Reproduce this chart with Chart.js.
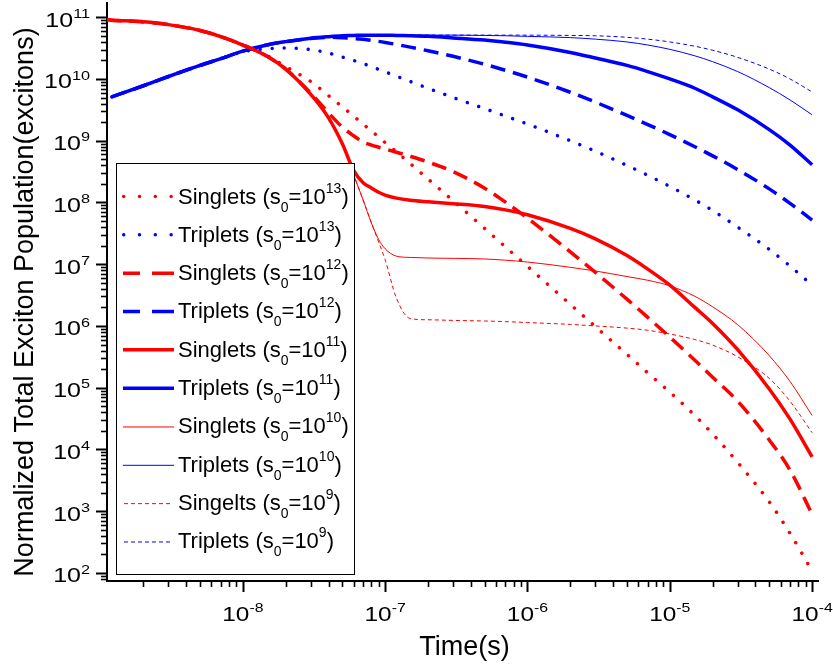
<!DOCTYPE html>
<html><head><meta charset="utf-8">
<script src="https://cdn.jsdelivr.net/npm/chart.js@4.4.1/dist/chart.umd.min.js"></script>
<style>html,body{margin:0;padding:0;background:#fff}#wrap{width:833px;height:669px;position:relative}</style>
</head><body><div id="wrap"><canvas id="c"></canvas></div>
<script>
// ---- DATA ----
const timeSeconds = [1.1e-9, 1.2e-9, 2e-9, 3e-9, 5e-9, 7e-9, 1e-8, 1.5e-8, 2e-8, 3e-8, 4e-8, 5e-8, 6e-8, 7e-8, 8e-8, 9e-8, 1e-7, 1.2e-7, 1.5e-7, 2e-7, 3e-7, 5e-7, 7e-7, 1e-6, 2e-6, 3e-6, 5e-6, 7e-6, 1e-5, 1.5e-5, 2e-5, 3e-5, 5e-5, 7e-5, 1e-4];
// populations given as log10(excitons)
const singlets13 = [10.96, 10.953, 10.925, 10.88, 10.785, 10.685, 10.55, 10.37, 10.20, 9.96, 9.73, 9.55, 9.40, 9.27, 9.16, 9.06, 8.97, 8.82, 8.63, 8.38, 8.03, 7.58, 7.28, 6.965, 6.35, 5.99, 5.54, 5.24, 4.93, 4.55, 4.25, 3.79, 3.15, 2.64, 2.03];
const triplets13 = [null, 9.71, 9.89, 10.04, 10.22, 10.33, 10.44, 10.49, 10.50, 10.475, 10.42, 10.355, 10.30, 10.25, 10.20, 10.155, 10.115, 10.045, 9.96, 9.85, 9.70, 9.52, 9.40, 9.27, 9.00, 8.83, 8.60, 8.44, 8.26, 8.04, 7.87, 7.60, 7.24, 6.97, 6.66];
const singlets12 = [10.96, 10.953, 10.925, 10.88, 10.785, 10.685, 10.55, 10.36, 10.16, 9.77, 9.45, 9.22, 9.08, 8.98, 8.93, 8.895, 8.866, 8.814, 8.748, 8.655, 8.50, 8.231, 8.006, 7.745, 7.20, 6.867, 6.434, 6.139, 5.82, 5.446, 5.17, 4.78, 4.153, 3.664, 2.95];
const triplets12 = [null, 9.71, 9.89, 10.04, 10.22, 10.33, 10.45, 10.555, 10.605, 10.655, 10.675, 10.668, 10.656, 10.642, 10.626, 10.609, 10.592, 10.559, 10.516, 10.457, 10.367, 10.237, 10.141, 10.03, 9.785, 9.625, 9.41, 9.262, 9.099, 8.903, 8.755, 8.533, 8.22, 7.985, 7.715];
const singlets11 = [10.96, 10.953, 10.925, 10.88, 10.785, 10.685, 10.55, 10.36, 10.16, 9.75, 9.37, 8.95, 8.52, 8.32, 8.235, 8.165, 8.12, 8.07, 8.035, 8.01, 7.98, 7.935, 7.88, 7.80, 7.58, 7.41, 7.14, 6.92, 6.66, 6.30, 6.04, 5.615, 4.98, 4.49, 3.88];
const triplets11 = [null, 9.71, 9.89, 10.04, 10.22, 10.33, 10.45, 10.555, 10.605, 10.66, 10.685, 10.70, 10.705, 10.71, 10.71, 10.71, 10.71, 10.705, 10.70, 10.69, 10.665, 10.63, 10.595, 10.55, 10.43, 10.34, 10.22, 10.12, 10.00, 9.85, 9.71, 9.50, 9.18, 8.93, 8.61];
const singlets10 = [10.96, 10.953, 10.925, 10.88, 10.785, 10.685, 10.55, 10.36, 10.16, 9.75, 9.37, 8.95, 8.45, 8.04, 7.67, 7.40, 7.25, 7.13, 7.11, 7.10, 7.095, 7.085, 7.065, 7.035, 6.95, 6.89, 6.80, 6.74, 6.65, 6.48, 6.31, 6.02, 5.52, 5.10, 4.55];
const triplets10 = [null, 9.71, 9.89, 10.04, 10.22, 10.33, 10.45, 10.555, 10.605, 10.66, 10.685, 10.70, 10.705, 10.71, 10.71, 10.71, 10.71, 10.71, 10.71, 10.71, 10.71, 10.705, 10.70, 10.69, 10.67, 10.645, 10.60, 10.55, 10.48, 10.375, 10.28, 10.12, 9.86, 9.66, 9.42];
const singlets9 = [10.96, 10.953, 10.925, 10.88, 10.785, 10.685, 10.55, 10.36, 10.16, 9.75, 9.37, 8.95, 8.45, 8.04, 7.67, 7.36, 7.07, 6.45, 6.12, 6.10, 6.09, 6.08, 6.07, 6.055, 6.025, 6.00, 5.965, 5.93, 5.87, 5.78, 5.69, 5.50, 5.15, 4.78, 4.27];
const triplets9 = [null, 9.71, 9.89, 10.04, 10.22, 10.33, 10.45, 10.555, 10.605, 10.66, 10.685, 10.70, 10.705, 10.71, 10.71, 10.71, 10.71, 10.71, 10.71, 10.71, 10.71, 10.71, 10.71, 10.71, 10.705, 10.70, 10.675, 10.645, 10.60, 10.53, 10.465, 10.35, 10.16, 10.00, 9.79];

const seriesNames = ['Singlets', 'Triplets', 'Singlets', 'Triplets', 'Singlets', 'Triplets', 'Singlets', 'Triplets', 'Singelts', 'Triplets'];
const s0Exponents = [13, 13, 12, 12, 11, 11, 10, 10, 9, 9];
const xTickExponents = [-8, -7, -6, -5, -4];
const yTickExponents = [2, 3, 4, 5, 6, 7, 8, 9, 10, 11];
const xAxisTitle = 'Time(s)';
const yAxisTitle = 'Normalized Total Exciton Population(excitons)';

// ---- STYLE ----
const RED = '#ff0000', BLUE = '#0000ff';
const styles = [
  {color: RED, width: 3.5, dash: [0.01, 12], cap: 'round', kind: 'dot'},
  {color: BLUE, width: 3.5, dash: [0.01, 12], cap: 'round', kind: 'dot'},
  {color: RED, width: 3.5, dash: [15, 8], cap: 'butt', kind: 'dash'},
  {color: BLUE, width: 3.5, dash: [15, 8], cap: 'butt', kind: 'dash'},
  {color: RED, width: 3.5, dash: [], cap: 'butt', kind: 'solid'},
  {color: BLUE, width: 3.5, dash: [], cap: 'butt', kind: 'solid'},
  {color: RED, width: 1, dash: [], cap: 'butt', kind: 'solid'},
  {color: BLUE, width: 1, dash: [], cap: 'butt', kind: 'solid'},
  {color: RED, width: 1, dash: [4, 3], cap: 'butt', kind: 'short'},
  {color: BLUE, width: 1, dash: [4, 3], cap: 'butt', kind: 'short'}
];
const seriesLog = [singlets13, triplets13, singlets12, triplets12, singlets11, triplets11, singlets10, triplets10, singlets9, triplets9];
const FONT = "'Liberation Sans', Arial, Helvetica, sans-serif";
const SUP = {'0':'⁰','1':'¹','2':'²','3':'³','4':'⁴','5':'⁵','6':'⁶','7':'⁷','8':'⁸','9':'⁹','-':'⁻'};
const sup = s => String(s).split('').map(c => SUP[c] || c).join('');

const datasets = seriesLog.map((arr, i) => ({
  label: seriesNames[i] + ' (s₀=10' + sup(s0Exponents[i]) + ')',
  data: timeSeconds.map((t, j) => ({x: t, y: arr[j] == null ? null : Math.pow(10, arr[j])})),
  borderColor: styles[i].color,
  borderWidth: styles[i].width,
  borderDash: styles[i].dash,
  borderCapStyle: styles[i].cap,
  borderJoinStyle: 'round',
  pointRadius: 0,
  fill: false,
  spanGaps: false,
  cubicInterpolationMode: 'monotone'
}));

function drawPow(ctx, x, y, exp, align, baseSize, expSize, rise, sx) {
  ctx.font = baseSize + 'px ' + FONT;
  const wB = ctx.measureText('10').width;
  ctx.font = expSize + 'px ' + FONT;
  const wE = ctx.measureText(String(exp)).width;
  const total = (wB + wE) * sx;
  const x0 = align === 'right' ? x - total : x - total / 2;
  ctx.save();
  ctx.translate(x0, y);
  ctx.scale(sx, 1);
  ctx.textAlign = 'left';
  ctx.textBaseline = 'alphabetic';
  ctx.fillStyle = '#000';
  ctx.font = baseSize + 'px ' + FONT;
  ctx.fillText('10', 0, 0);
  ctx.font = expSize + 'px ' + FONT;
  ctx.fillText(String(exp), wB, -rise);
  ctx.restore();
}

const decor = {
  id: 'decor',
  afterDraw(chart) {
    const ctx = chart.ctx;
    const xs = chart.scales.x, ys = chart.scales.y;
    const ca = chart.chartArea;
    ctx.save();
    ctx.strokeStyle = '#000';
    // x ticks
    for (let e = -10; e <= -4; e++) {
      for (let k = 1; k <= 9; k++) {
        const v = k * Math.pow(10, e);
        if (v < xs.min || v > xs.max) continue;
        const px = Math.round(xs.getPixelForValue(v)) + 0.5;
        ctx.lineWidth = k === 1 ? 2 : 1.6;
        ctx.beginPath();
        ctx.moveTo(px, ca.bottom);
        ctx.lineTo(px, ca.bottom + (k === 1 ? 11 : 6));
        ctx.stroke();
      }
    }
    // y ticks
    for (let e = 1; e <= 11; e++) {
      for (let k = 1; k <= 9; k++) {
        const v = k * Math.pow(10, e);
        if (v < ys.min || v > ys.max) continue;
        const py = Math.round(ys.getPixelForValue(v)) + 0.5;
        ctx.lineWidth = k === 1 ? 2 : 1.6;
        ctx.beginPath();
        ctx.moveTo(ca.left, py);
        ctx.lineTo(ca.left - (k === 1 ? 11 : 6), py);
        ctx.stroke();
      }
    }
    // tick labels
    xTickExponents.forEach(e => {
      const px = xs.getPixelForValue(Math.pow(10, e));
      drawPow(ctx, px, ca.bottom + 40, e, 'center', 20, 13, 9.5, 1.22);
    });
    yTickExponents.forEach(e => {
      const py = ys.getPixelForValue(Math.pow(10, e));
      drawPow(ctx, ca.left - 17, py + 9.4, e, 'right', 20, 13, 8.7, 1.25);
    });
    // axis titles
    ctx.fillStyle = '#000';
    ctx.font = '27px ' + FONT;
    ctx.textAlign = 'center';
    ctx.textBaseline = 'alphabetic';
    ctx.fillText(xAxisTitle, (ca.left + ca.right) / 2 + 2, 655);
    ctx.save();
    ctx.translate(33, 302);
    ctx.rotate(-Math.PI / 2);
    ctx.fillText(yAxisTitle, 0, 0);
    ctx.restore();
    // legend
    const L = {x: 116, y: 163, w: 238, h: 411};
    ctx.fillStyle = '#fff';
    ctx.fillRect(L.x, L.y, L.w, L.h);
    ctx.lineWidth = 1;
    ctx.strokeStyle = '#000';
    ctx.strokeRect(L.x + 0.5, L.y + 0.5, L.w, L.h);
    chart.data.datasets.forEach((ds, i) => {
      const st = styles[i];
      const cy = 196.5 + i * 38.33;
      ctx.save();
      ctx.strokeStyle = st.color;
      ctx.lineWidth = st.width;
      ctx.lineCap = st.cap;
      if (st.kind === 'dot') {
        ctx.setLineDash([0.01, 15.8]);
        ctx.beginPath(); ctx.moveTo(123.7, cy); ctx.lineTo(175, cy); ctx.stroke();
      } else if (st.kind === 'dash') {
        ctx.setLineDash([]);
        ctx.beginPath(); ctx.moveTo(123, cy); ctx.lineTo(140, cy); ctx.moveTo(152, cy); ctx.lineTo(174, cy); ctx.stroke();
      } else if (st.kind === 'short') {
        ctx.setLineDash([4, 3]);
        ctx.beginPath(); ctx.moveTo(124, cy + 0.5); ctx.lineTo(173, cy + 0.5); ctx.stroke();
      } else {
        ctx.setLineDash([]);
        ctx.beginPath(); ctx.moveTo(123, cy + (st.width < 2 ? 0.5 : 0)); ctx.lineTo(174, cy + (st.width < 2 ? 0.5 : 0)); ctx.stroke();
      }
      ctx.restore();
      // text
      const base = cy + 7;
      let x = 178;
      ctx.fillStyle = '#000';
      ctx.textAlign = 'left';
      ctx.textBaseline = 'alphabetic';
      const parts = [
        [seriesNames[i] + ' (s', 22, 0],
        ['0', 14, 8],
        ['=10', 22, 0],
        [String(s0Exponents[i]), 14, -11],
        [')', 22, 0]
      ];
      parts.forEach(p => {
        ctx.font = p[1] + 'px ' + FONT;
        ctx.fillText(p[0], x, base + p[2]);
        x += ctx.measureText(p[0]).width;
      });
    });
    ctx.restore();
  }
};

new Chart(document.getElementById('c'), {
  type: 'line',
  data: {datasets},
  options: {
    responsive: true,
    maintainAspectRatio: false,
    animation: false,
    devicePixelRatio: 1,
    layout: {padding: {left: 0, right: 15, top: 3, bottom: 0}},
    plugins: {legend: {display: false}, tooltip: {enabled: false}},
    scales: {
      x: {
        type: 'logarithmic', min: 1.11e-9, max: 1.1e-4,
        grid: {display: false},
        border: {display: true, color: '#000', width: 2},
        ticks: {display: false},
        afterFit: s => { s.height = 88; }
      },
      y: {
        type: 'logarithmic', min: 74, max: 1.7e11,
        grid: {display: false},
        border: {display: true, color: '#000', width: 2},
        ticks: {display: false},
        afterFit: s => { s.width = 107; }
      }
    }
  },
  plugins: [decor]
});
</script>
</body></html>
